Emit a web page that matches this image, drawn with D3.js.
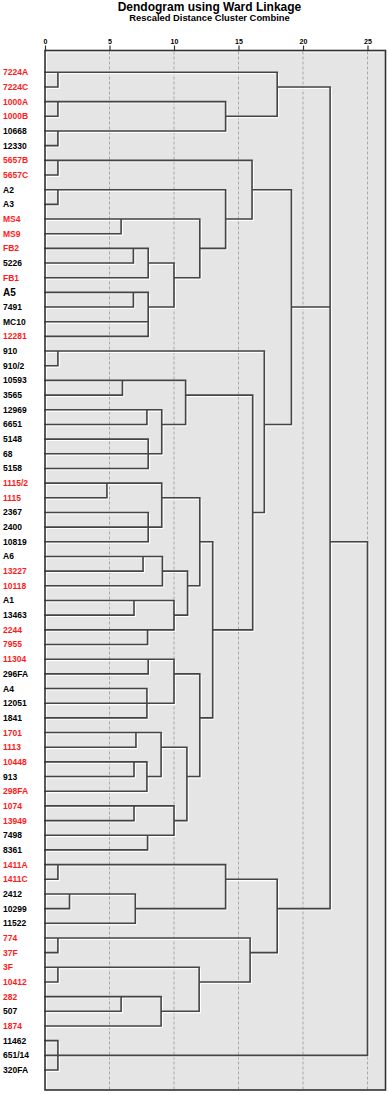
<!DOCTYPE html>
<html><head><meta charset="utf-8">
<script src="https://cdn.jsdelivr.net/npm/d3@7"></script>
<style>
body{margin:0;background:#fff}
svg{display:block}
text{font-family:"Liberation Sans",Arial,Helvetica,sans-serif;font-weight:bold}
</style>
</head><body>
<svg id="c" width="389" height="1094"></svg>
<script>
const title = "Dendogram using Ward Linkage";
const subtitle = "Rescaled Distance Cluster Combine";
const tickValues = [0, 5, 10, 15, 20, 25];

const leaves = ["7224A","7224C","1000A","1000B","10668","12330","5657B","5657C","A2","A3",
  "MS4","MS9","FB2","5226","FB1","A5","7491","MC10","12281","910","910/2","10593","3565",
  "12969","6651","5148","68","5158","1115/2","1115","2367","2400","10819","A6","13227","10118",
  "A1","13463","2244","7955","11304","296FA","A4","12051","1841","1701","1113","10448","913",
  "298FA","1074","13949","7498","8361","1411A","1411C","2412","10299","11522","774","37F",
  "3F","10412","282","507","1874","11462","651/14","320FA"];

const redLeaves = ["7224A","7224C","1000A","1000B","5657B","5657C","MS4","MS9","FB2","FB1",
  "12281","1115/2","1115","13227","10118","2244","7955","11304","1701","1113","10448","298FA",
  "1074","13949","1411A","1411C","774","37F","3F","10412","282","1874"];

// merges: [left, right, height]; strings = leaves, numbers = earlier merge index
const merges = [
  ["7224A","7224C",1.0],   // 0
  ["1000A","1000B",1.0],   // 1
  ["10668","12330",1.0],   // 2
  [1,2,14.0],              // 3
  [0,3,18.0],              // 4
  ["5657B","5657C",1.0],   // 5
  ["A2","A3",1.0],         // 6
  ["MS4","MS9",5.9],       // 7
  ["FB2","5226",6.85],     // 8
  [8,"FB1",8.0],           // 9
  ["A5","7491",6.85],      // 10
  ["MC10","12281",8.0],    // 11
  [10,11,8.0],             // 12
  [9,12,10.0],             // 13
  [7,13,12.0],             // 14
  [6,14,14.0],             // 15
  [5,15,16.05],            // 16
  ["910","910/2",1.0],     // 17
  ["10593","3565",6.0],    // 18
  ["12969","6651",7.9],    // 19
  ["5148","68",8.0],       // 20
  [20,"5158",8.0],         // 21
  [19,21,9.05],            // 22
  [18,22,10.9],            // 23
  ["1115/2","1115",4.8],   // 24
  ["2367","2400",8.0],     // 25
  [25,"10819",8.0],        // 26
  [24,26,9.05],            // 27
  ["A6","13227",7.6],      // 28
  [28,"10118",9.1],        // 29
  ["A1","13463",6.9],      // 30
  ["2244","7955",7.95],    // 31
  [30,31,10.0],            // 32
  [29,32,11.05],           // 33
  [27,33,12.0],            // 34
  ["11304","296FA",8.0],   // 35
  ["A4","12051",7.9],      // 36
  [36,"1841",7.9],         // 37
  [35,37,10.0],            // 38
  ["1701","1113",7.05],    // 39
  ["10448","913",6.9],     // 40
  [40,"298FA",7.9],        // 41
  [39,41,9.0],             // 42
  ["1074","13949",6.9],    // 43
  ["7498","8361",7.95],    // 44
  [43,44,10.0],            // 45
  [42,45,11.0],            // 46
  [38,46,12.0],            // 47
  [34,47,13.0],            // 48
  [23,48,16.1],            // 49
  [17,49,17.0],            // 50
  [16,50,19.1],            // 51
  [4,51,22.1],             // 52
  ["1411A","1411C",1.0],   // 53
  ["2412","10299",1.9],    // 54
  [54,"11522",7.0],        // 55
  [53,55,14.0],            // 56
  ["774","37F",1.0],       // 57
  ["3F","10412",1.0],      // 58
  ["282","507",5.9],       // 59
  [59,"1874",9.0],         // 60
  [58,60,11.95],           // 61
  [57,61,15.9],            // 62
  [56,62,18.0],            // 63
  [52,63,22.1],            // 64
  ["11462","651/14",1.0],  // 65
  [65,"320FA",1.0],        // 66
  [64,66,25.0]             // 67
];

const svg = d3.select("#c");
const box = {x0: 45, x1: 385.5, y0: 50.5, y1: 1090};

const x = d3.scaleLinear().domain([0, 25]).range([45, 367.5]);
const y = d3.scalePoint().domain(leaves).range([72.3, 1070]);

// title
svg.append("text").attr("x", 209.5).attr("y", 11.3).attr("text-anchor", "middle")
  .style("font-size", "12px").attr("fill", "#000").text(title);
svg.append("text").attr("x", 209.5).attr("y", 21.3).attr("text-anchor", "middle")
  .style("font-size", "9.4px").attr("fill", "#000").text(subtitle);

// plot box
svg.append("rect").attr("x", box.x0).attr("y", box.y0)
  .attr("width", box.x1 - box.x0).attr("height", box.y1 - box.y0)
  .attr("fill", "#e5e5e5");
// inner highlight
svg.append("path")
  .attr("d", `M${box.x0+1.5},${box.y1-1}V${box.y0+1.5}H${box.x1-1}`)
  .attr("fill", "none").attr("stroke", "#fff").attr("stroke-width", 1);

// grid
svg.append("g").selectAll("line").data(tickValues.filter(d => d > 0)).join("line")
  .attr("x1", d => x(d)).attr("x2", d => x(d))
  .attr("y1", box.y0 + 1).attr("y2", box.y1 - 1)
  .attr("stroke", "#a8a8a8").attr("stroke-width", 1).attr("stroke-dasharray", "3,2");

// axis
const axis = svg.append("g").attr("transform", `translate(0,${box.y0})`)
  .call(d3.axisTop(x).tickValues(tickValues).tickSize(5).tickPadding(1.5).tickFormat(d3.format("d")));
axis.select(".domain").remove();
axis.selectAll(".tick line").attr("stroke", "#333").attr("stroke-width", 1.2);
axis.selectAll(".tick text").style("font-size", "7px").style("font-weight", "bold")
  .attr("fill", "#000").style("font-family", '"Liberation Sans",Arial,sans-serif');

// nodes
const leafIndex = new Map(leaves.map((d, i) => [d, i]));
const nodes = [];
function nodeOf(ref) {
  if (typeof ref === "string") return {h: 0, row: leafIndex.get(ref)};
  return nodes[ref];
}
const p = d3.path();
merges.forEach(([a, b, h]) => {
  const na = nodeOf(a), nb = nodeOf(b);
  const ya = y(leaves[na.row]), yb = y(leaves[nb.row]);
  p.moveTo(x(na.h), ya); p.lineTo(x(h), ya);
  p.moveTo(x(nb.h), yb); p.lineTo(x(h), yb);
  p.moveTo(x(h), ya); p.lineTo(x(h), yb);
  nodes.push({h: h, row: Math.floor((na.row + nb.row) / 2)});
});
const dStr = p.toString();
svg.append("path").attr("d", dStr).attr("transform", "translate(1.4,1.4)")
  .attr("fill", "none").attr("stroke", "#ffffff").attr("stroke-width", 1.1);
svg.append("path").attr("d", dStr)
  .attr("fill", "none").attr("stroke", "#454545").attr("stroke-width", 1.6)
  .attr("stroke-linecap", "square");

// box border
svg.append("rect").attr("x", box.x0).attr("y", box.y0)
  .attr("width", box.x1 - box.x0).attr("height", box.y1 - box.y0)
  .attr("fill", "none").attr("stroke", "#333").attr("stroke-width", 1.6);

// labels
const redSet = new Set(redLeaves);
svg.append("g").selectAll("text").data(leaves).join("text")
  .attr("x", 3).attr("y", d => y(d)).attr("dy", "0.35em")
  .style("font-size", d => d === "A5" ? "10px" : "8.5px")
  .attr("fill", d => redSet.has(d) ? "#ff1a1a" : "#000")
  .text(d => d);
</script>
</body></html>
